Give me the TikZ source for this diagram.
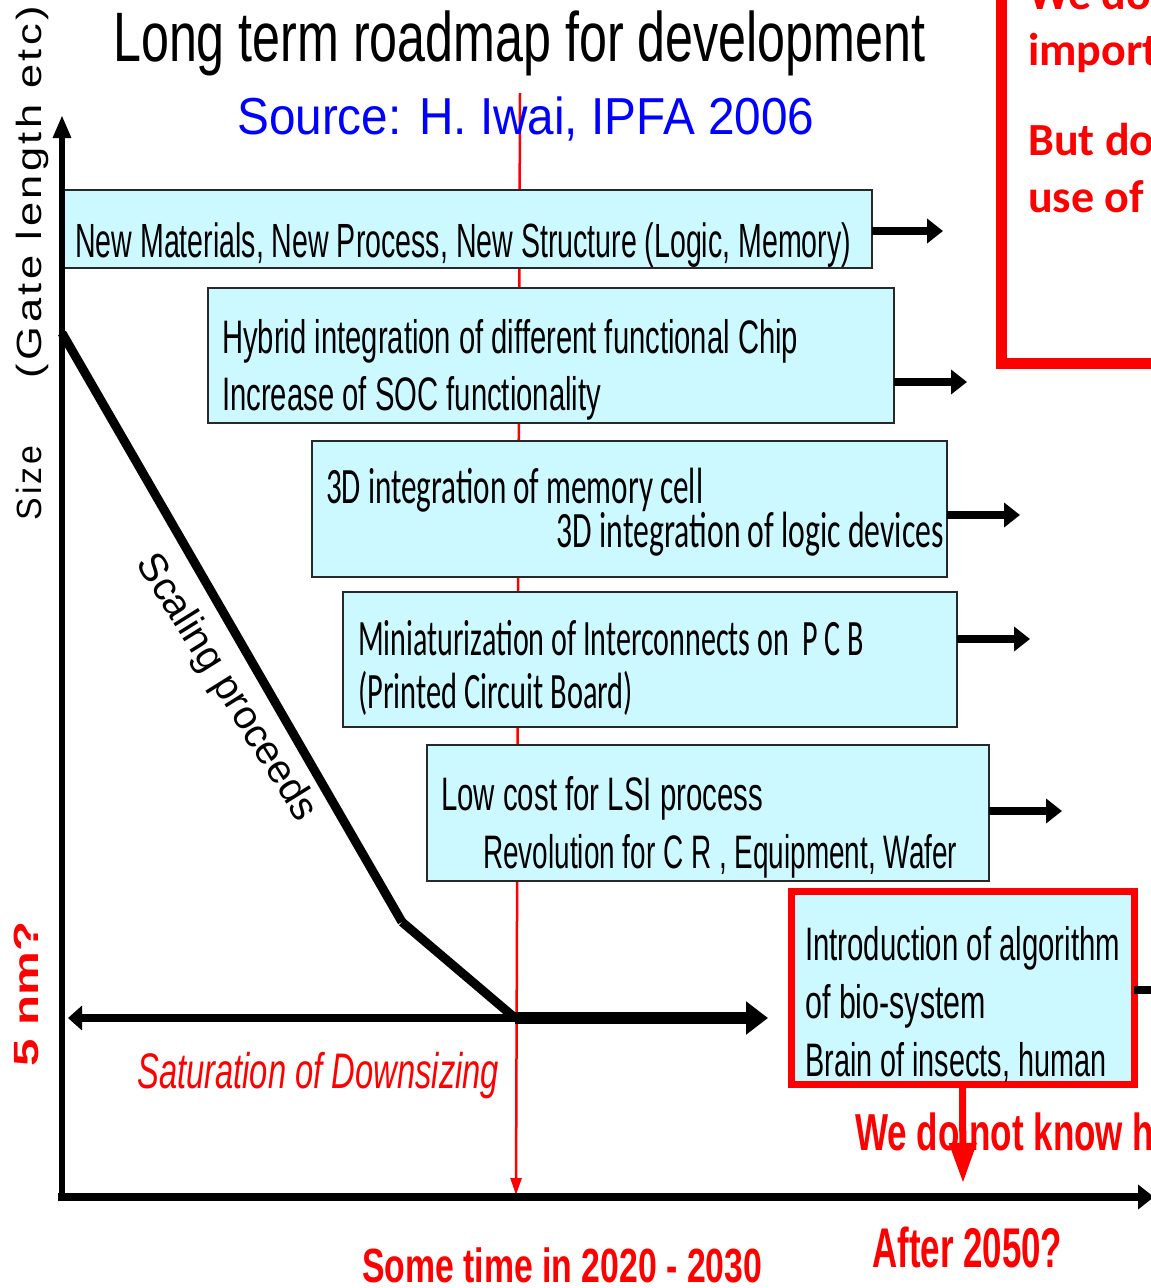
\documentclass[tikz,border=0pt]{standalone}
\usepackage{fontspec}
\usepackage{graphicx}
\setmainfont{Liberation Sans}
\newfontfamily\calfont{Carlito}
\newfontfamily\spacedfont[LetterSpace=8]{Liberation Sans}
\usetikzlibrary{arrows.meta}
\definecolor{boxfill}{RGB}{204,249,255}
\definecolor{boxline}{RGB}{40,40,40}
\definecolor{srcblue}{RGB}{0,0,255}
\definecolor{hot}{RGB}{255,0,0}
\newcommand\fitt[3]{\resizebox{#1pt}{\height}{\fontsize{#2pt}{#2pt}\selectfont #3}}
\tikzset{
  box/.style={draw=boxline, line width=2pt, fill=boxfill, inner sep=0pt, outer sep=0pt, anchor=north west},
  biobox/.style={box, draw=hot, line width=7pt},
  txt/.style={anchor=base west, inner sep=0pt},
  flow/.style={line width=8pt, -{Triangle[length=16pt,width=24pt]}},
}
\begin{document}
\begin{tikzpicture}[x=1pt,y=-1pt]
\useasboundingbox (0,0) rectangle (1151,1288);
\clip (0,0) rectangle (1151,1288);
\fill[white] (0,0) rectangle (1151,1288);

% red time line
\coordinate (rtop) at (520,93);
\coordinate (rbot) at (516,1195);
\draw[hot, line width=2.5pt, -{Triangle[length=17pt,width=11pt]}] (rtop) -- (rbot);

% boxes
\node[box, minimum width=810pt, minimum height=78pt] (b1) at (62,190) {};
\node[box, minimum width=686pt, minimum height=135pt] (b2) at (208,288) {};
\node[box, minimum width=635pt, minimum height=136pt] (b3) at (312,441) {};
\node[box, minimum width=614pt, minimum height=135pt] (b4) at (343,592) {};
\node[box, minimum width=562pt, minimum height=136pt] (b5) at (427,745) {};
\node[biobox, minimum width=343pt, minimum height=193pt] (b6) at (791,891) {};

% box arrows
\coordinate (e1) at (943,231);
\coordinate (e2) at (967,382);
\coordinate (e3) at (1020,515);
\coordinate (e4) at (1030,639);
\coordinate (e5) at (1062,811);
\coordinate (e6) at (1185,990);
\draw[flow] (e1 -| b1.east) -- (e1);
\draw[flow] (e2 -| b2.east) -- (e2);
\draw[flow] (e3 -| b3.east) -- (e3);
\draw[flow] (e4 -| b4.east) -- (e4);
\draw[flow] (e5 -| b5.east) -- (e5);
\draw[flow] (e6 -| b6.east) -- (e6);

% red down arrow
\coordinate (down) at (963,1183);
\draw[hot, line width=7pt, -{Triangle[length=40pt,width=26pt]}] (b6.south) -- (down);

% top-right red note
\node[draw=hot, line width=11pt, inner sep=0pt, outer sep=0pt, minimum width=300pt, minimum height=420pt, anchor=south west] (note) at (1001,363) {};
\node[txt, text=hot] (n1) at (1028,9) {\fontsize{46pt}{46pt}\selectfont\calfont\bfseries We do};
\node[txt, text=hot] (n2) at (1028,65) {\fontsize{46pt}{46pt}\selectfont\calfont\bfseries import};
\node[txt, text=hot] (n3) at (1028,155) {\fontsize{46pt}{46pt}\selectfont\calfont\bfseries But do};
\node[txt, text=hot] (n4) at (1028,212) {\fontsize{46pt}{46pt}\selectfont\calfont\bfseries use of};

% titles
\node[txt] (title) at (113,61) {\fitt{812}{70}{Long term roadmap for development}};
\node[txt, text=srcblue] (src) at (237,134) {\fitt{577}{52}{Source: H. Iwai, IPFA 2006}};

% box texts
\node[txt] (t1) at (75,257) {\fitt{776}{48}{New Materials, New Process, New Structure (Logic, Memory)}};
\node[txt] (t2a) at (222,353) {\fitt{576}{47}{Hybrid integration of different functional Chip}};
\node[txt] (t2b) at (222,410) {\fitt{379}{47}{Increase of SOC functionality}};
\node[txt] (t3a) at (326,503) {\fitt{377}{51}{\calfont 3D integration of memory cell}};
\node[anchor=base east, inner sep=0pt] (t3b) at (944,547) {\fitt{387}{51}{\calfont 3D integration of logic devices}};
\node[txt] (t4a) at (358,655) {\fitt{506}{51}{\calfont Miniaturization of Interconnects on\ \ P\ C\ B}};
\node[txt] (t4b) at (358,708) {\fitt{275}{51}{\calfont (Printed Circuit Board)}};
\node[txt] (t5a) at (441,810) {\fitt{322}{47}{Low cost for LSI process}};
\node[txt] (t5b) at (483,868) {\fitt{474}{47}{Revolution for C R , Equipment, Wafer}};
\node[txt] (t6a) at (805,960) {\fitt{315}{47}{Introduction of algorithm}};
\node[txt] (t6b) at (805,1018) {\fitt{181}{47}{of bio-system}};
\node[txt] (t6c) at (805,1076) {\fitt{301}{47}{Brain of insects, human}};

% axes
\coordinate (ybot) at (62,1201);
\coordinate (ytop) at (62,115);
\coordinate (xleft) at (58,1197);
\coordinate (xright) at (1154,1197);
\draw[line width=6pt, -{Triangle[length=23pt,width=17pt]}] (ybot) -- (ytop);
\draw[line width=8pt, -{Triangle[length=16pt,width=24pt]}] (xleft) -- (xright);

% scaling curve
\coordinate (c0) at (62,333);
\coordinate (c1) at (402,922);
\coordinate (c2) at (515,1018);
\coordinate (sl) at (68,1018);
\coordinate (sr) at (768,1018);
\draw[line width=9pt] (c0) -- (c1);
\draw[line width=9pt] (c1) -- (c2);
\draw[line width=8pt, -{Triangle[length=14pt,width=24pt]}] (c2) -- (sl);
\draw[line width=12pt, -{Triangle[length=22pt,width=32pt]}] (c2) -- (sr);

% labels
\node[rotate=-58, inner sep=0pt] (scal) at (226,688) {\fontsize{40pt}{40pt}\selectfont Scaling proceeds};
\node[txt, text=hot] (sat) at (137,1088) {\fitt{362}{50}{\itshape Saturation of Downsizing}};
\node[txt, text=hot] (when) at (362,1282) {\fitt{400}{48}{\bfseries Some time in 2020 - 2030}};
\node[txt, text=hot] (after) at (872,1267) {\fitt{190}{56}{\bfseries After 2050?}};
\node[txt, text=hot] (unk) at (855,1150) {\fitt{299}{52}{\bfseries We do not know h}};

\node[rotate=90, anchor=base, inner sep=0pt] (size) at (41,483) {\fitt{74}{35}{\spacedfont Size}};
\node[rotate=90, anchor=base, inner sep=0pt] (gate) at (41,192) {\fitt{372}{35}{\spacedfont (Gate length etc)}};
\node[rotate=90, anchor=base, inner sep=0pt, text=hot] (five) at (38,994) {\fitt{145}{35}{\bfseries 5\ nm?}};
\end{tikzpicture}
\end{document}
